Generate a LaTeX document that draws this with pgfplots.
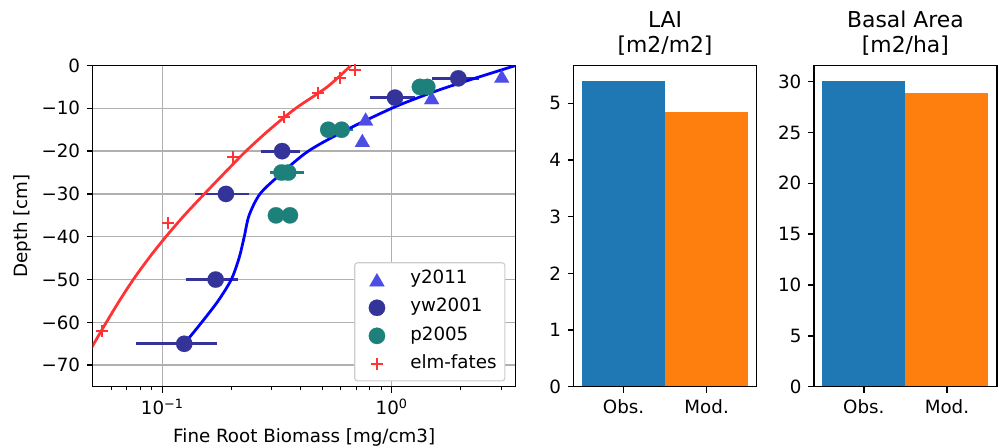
\documentclass[border=0pt]{standalone}
\usepackage{fontspec}
\setmainfont{DejaVu Sans}
\usepackage{pgfplots}
\pgfplotsset{compat=1.18}

\definecolor{ctri}{RGB}{77,77,230}
\definecolor{cyw}{RGB}{51,51,153}
\definecolor{cp}{RGB}{30,128,122}
\definecolor{cred}{RGB}{255,51,51}
\definecolor{cobs}{HTML}{1F77B4}
\definecolor{cmod}{HTML}{FF7F0E}
\definecolor{cgrid}{HTML}{B0B0B0}

\newcommand\tfont{\fontsize{13.2}{15.8}\selectfont}

\pgfplotsset{
  base/.style={
    scale only axis, height=231.2bp,
    axis line style={line width=1.06bp},
    tick style={black, line width=1.06bp},
    minor tick style={line width=0.8bp},
    major tick length=4.3bp, minor tick length=2.5bp,
    tick align=outside, tick pos=left,
    tick label style={font=\tfont, inner sep=0pt},
    xticklabel style={yshift=-4.6bp},
    yticklabel style={xshift=-4.6bp},
    label style={font=\tfont},
    /pgf/number format/assume math mode=true,
  },
  bartitle/.style={
    title style={font=\fontsize{15.8}{18.5}\selectfont, align=center,
      at={(axis description cs:0.5,1)}, anchor=south, inner sep=0pt, yshift=1bp},
  },
  lgimg/.style={legend image code/.code={
    \path[draw=none] (0bp,0bp) (34bp,0bp);
    \draw[mark repeat=2, mark phase=2, ##1] plot coordinates {(0bp,0bp) (12bp,0bp) (24bp,0bp)};}},
}

\begin{document}
\begin{tikzpicture}
\useasboundingbox (0,0) rectangle (720.72bp,322.56bp);

% root profile
\begin{axis}[base, at={(66.74bp,44.2bp)}, anchor=south west, width=304.56bp,
  xmode=log, xmin=0.0497, xmax=3.474, ymin=-75, ymax=0,
  xtick={0.1,1}, xticklabels={10\textsuperscript{−1},10\textsuperscript{0}},
  minor xtick={0.06,0.07,0.08,0.09,0.2,0.3,0.4,0.5,0.6,0.7,0.8,0.9,2,3},
  ytick={-70,-60,-50,-40,-30,-20,-10,0},
  yticklabels={−70,−60,−50,−40,−30,−20,−10,0},
  grid=major, major grid style={cgrid, line width=1.06bp},
  xlabel={Fine Root Biomass [mg/cm3]}, ylabel={Depth [cm]},
  xlabel style={at={(axis description cs:0.5,0)}, anchor=base, yshift=-40.5bp},
  ylabel style={at={(axis description cs:-0.153,0.5)}, anchor=base},
  legend style={at={(axis description cs:0.9757,0.0162)}, anchor=south east,
    font=\tfont, draw=black!20, line width=0.8bp, rounded corners=2bp,
    fill=white,
    inner xsep=4bp, inner ysep=3.7bp, row sep=3.2bp,
    nodes={inner sep=2bp, text height=9.5bp, text depth=3.5bp}},
  legend cell align=left,
]
\addplot[only marks, lgimg, mark=triangle*, mark size=6.2bp, color=ctri,
  mark options={draw=ctri, fill=ctri, line width=0.1bp, yshift=-1.55bp}]
  coordinates {(3.02,-2.5) (1.494,-7.5) (0.770,-12.5) (0.745,-17.5)};
\addlegendentry{y2011}

\addplot[only marks, lgimg, mark=*, mark size=5.9bp, color=cyw,
  mark options={draw=cyw, fill=cyw, line width=0.1bp},
  error bars/.cd, x dir=both, x explicit, error mark=none,
  error bar style={line width=2bp, cyw}]
  coordinates {
    (1.953,-3) +- (0.45,0)
    (1.034,-7.5) +- (0.23,0)
    (0.333,-20) +- (0.065,0)
    (0.1894,-30) +- (0.05,0)
    (0.1708,-50) +- (0.044,0)
    (0.1246,-65) +- (0.048,0)
  };
\addlegendentry{yw2001}

\addplot[only marks, lgimg, mark=*, mark size=5.9bp, color=cp,
  mark options={draw=cp, fill=cp, line width=0.1bp},
  error bars/.cd, x dir=both, x explicit, error mark=none,
  error bar style={line width=2bp, cp}]
  coordinates {
    (1.328,-5) +- (0,0)
    (1.430,-5) +- (0.08,0)
    (0.529,-15) +- (0,0)
    (0.605,-15) +- (0.075,0)
    (0.331,-25) +- (0,0)
    (0.354,-25) +- (0.06,0)
    (0.313,-35) +- (0,0)
    (0.360,-35) +- (0,0)
  };
\addlegendentry{p2005}

\addplot[only marks, lgimg, mark=+, mark size=4.3bp, color=cred,
  mark options={line width=1.5bp}]
  coordinates {(0.692,-1.0) (0.595,-2.95) (0.479,-6.45) (0.339,-12.06)
    (0.204,-21.4) (0.106,-36.7) (0.0544,-62.0)};
\addlegendentry{elm-fates}

\addplot[cred, line width=2bp, smooth, forget plot] coordinates {
  (0.04456,-70) (0.05027,-65) (0.05699,-60) (0.06494,-55) (0.07469,-50)
  (0.08732,-45) (0.1036,-40) (0.1247,-35) (0.1525,-30) (0.1875,-25)
  (0.2315,-20) (0.2932,-15) (0.3818,-10) (0.5237,-5) (0.6645,0)};

\addplot[blue, line width=2bp, smooth, forget plot] coordinates {
  (0.1246,-65) (0.1484,-60) (0.175,-55) (0.1998,-50) (0.216,-45)
  (0.2276,-40) (0.239,-35) (0.2666,-30) (0.326,-25.5) (0.433,-20)
  (0.637,-15) (1.0,-10) (1.306,-7.5) (1.652,-5.5) (2.27,-3.1) (3.474,0)};
\end{axis}

% LAI
\begin{axis}[base, bartitle, at={(413.06bp,44.2bp)}, anchor=south west, width=131.6bp,
  axis on top, ymin=0, ymax=5.67, xmin=-0.6, xmax=1.6,
  xtick={0,1}, xticklabels={Obs.,Mod.}, ytick={0,1,2,3,4,5},
  title={LAI\\{}[m2/m2]}]
\addplot[ybar, bar width=1, bar shift=0pt, fill=cobs, draw=none] coordinates {(0,5.40)};
\addplot[ybar, bar width=1, bar shift=0pt, fill=cmod, draw=none] coordinates {(1,4.85)};
\end{axis}

% Basal area
\begin{axis}[base, bartitle, at={(586.08bp,44.2bp)}, anchor=south west, width=131.6bp,
  axis on top, ymin=0, ymax=31.58, xmin=-0.6, xmax=1.6,
  xtick={0,1}, xticklabels={Obs.,Mod.}, ytick={0,5,10,15,20,25,30},
  title={Basal Area\\{}[m2/ha]}]
\addplot[ybar, bar width=1, bar shift=0pt, fill=cobs, draw=none] coordinates {(0,30.08)};
\addplot[ybar, bar width=1, bar shift=0pt, fill=cmod, draw=none] coordinates {(1,28.9)};
\end{axis}
\end{tikzpicture}
\end{document}
